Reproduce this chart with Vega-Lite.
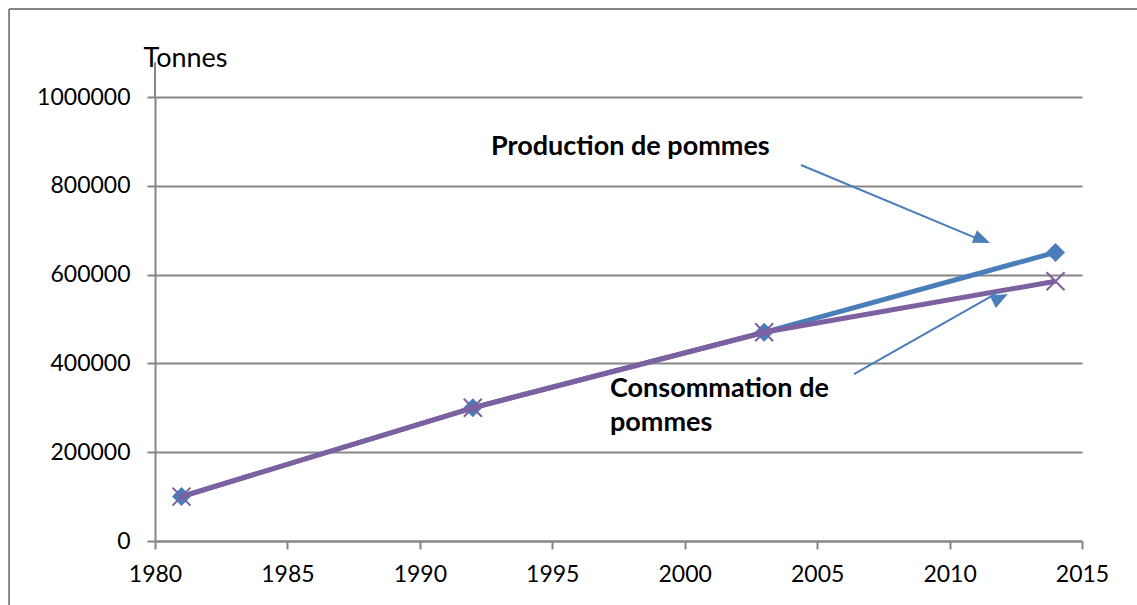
{
  "$schema": "https://vega.github.io/schema/vega-lite/v6.json",
  "width": 927,
  "height": 444,
  "autosize": {"type": "none"},
  "padding": {"left": 155, "top": 97, "right": 55, "bottom": 64},
  "background": "white",
  "config": {"font": "Lato", "view": {"stroke": null}},
  "datasets": {
    "series": [
      {"year": 1981, "value": 100000, "series": "Production de pommes"},
      {"year": 1992, "value": 300000, "series": "Production de pommes"},
      {"year": 2003, "value": 470000, "series": "Production de pommes"},
      {"year": 2014, "value": 650000, "series": "Production de pommes"},
      {"year": 1981, "value": 100000, "series": "Consommation de pommes"},
      {"year": 1992, "value": 300000, "series": "Consommation de pommes"},
      {"year": 2003, "value": 470000, "series": "Consommation de pommes"},
      {"year": 2014, "value": 585000, "series": "Consommation de pommes"}
    ]
  },
  "layer": [
    {
      "data": {"values": [
        {"x": 1974.49, "y": 1198000, "x2": 2018.5, "y2": 1198000},
        {"x": 1974.49, "y": 1198000, "x2": 1974.49, "y2": -160000}
      ]},
      "mark": {"type": "rule", "color": "#868686", "strokeWidth": 2, "clip": false},
      "encoding": {
        "x": {"field": "x", "type": "quantitative"},
        "y": {"field": "y", "type": "quantitative"},
        "x2": {"field": "x2"},
        "y2": {"field": "y2"}
      }
    },
    {
      "data": {"values": [{"x": 1980, "y": 1000000, "y2": 1078000}]},
      "mark": {"type": "rule", "color": "#868686", "strokeWidth": 2, "clip": false},
      "encoding": {
        "x": {"field": "x", "type": "quantitative"},
        "y": {"field": "y", "type": "quantitative"},
        "y2": {"field": "y2"}
      }
    },
    {
      "data": {"name": "series"},
      "transform": [{"filter": "datum.series === 'Production de pommes'"}],
      "mark": {"type": "line", "color": "#4A7EBB", "strokeWidth": 5},
      "encoding": {
        "x": {
          "field": "year", "type": "quantitative",
          "scale": {"domain": [1980, 2015], "nice": false, "zero": false},
          "axis": {
            "title": null, "values": [1980, 1985, 1990, 1995, 2000, 2005, 2010, 2015],
            "format": "d", "grid": false, "labelFlush": false,
            "domainColor": "#868686", "domainWidth": 2,
            "tickColor": "#868686", "tickWidth": 2, "tickSize": 8,
            "labelFontSize": 23, "labelColor": "#000000", "labelPadding": 14,
            "labelFont": "Lato"
          }
        },
        "y": {
          "field": "value", "type": "quantitative",
          "scale": {"domain": [0, 1000000], "nice": false},
          "axis": {
            "title": "Tonnes", "titleAngle": 0, "titleAlign": "left", "titleBaseline": "alphabetic",
            "titleX": -12, "titleY": -31, "titleFontSize": 27, "titleFontWeight": "normal",
            "titleColor": "#000000", "titleFont": "Lato",
            "values": [0, 200000, 400000, 600000, 800000, 1000000], "format": "d",
            "grid": true, "gridColor": "#868686", "gridWidth": 2,
            "domainColor": "#868686", "domainWidth": 2, "labelFlush": false,
            "tickColor": "#868686", "tickWidth": 2, "tickSize": 8,
            "labelFontSize": 23, "labelColor": "#000000", "labelPadding": 17,
            "labelFont": "Lato"
          }
        }
      }
    },
    {
      "data": {"name": "series"},
      "transform": [{"filter": "datum.series === 'Production de pommes'"}],
      "mark": {"type": "point", "shape": "diamond", "filled": true, "color": "#4A7EBB", "size": 360, "opacity": 1},
      "encoding": {
        "x": {"field": "year", "type": "quantitative"},
        "y": {"field": "value", "type": "quantitative"}
      }
    },
    {
      "data": {"name": "series"},
      "transform": [{"filter": "datum.series === 'Consommation de pommes'"}],
      "mark": {"type": "line", "color": "#7D60A0", "strokeWidth": 5},
      "encoding": {
        "x": {"field": "year", "type": "quantitative"},
        "y": {"field": "value", "type": "quantitative"}
      }
    },
    {
      "data": {"name": "series"},
      "transform": [{"filter": "datum.series === 'Consommation de pommes'"}],
      "mark": {"type": "point", "shape": "M-1,-1L1,1M1,-1L-1,1", "filled": false, "color": "#7D60A0", "strokeWidth": 2, "size": 324, "opacity": 1},
      "encoding": {
        "x": {"field": "year", "type": "quantitative"},
        "y": {"field": "value", "type": "quantitative"}
      }
    },
    {
      "data": {"values": [
        {"x": 2004.39, "y": 846800, "x2": 2011.3, "y2": 675000},
        {"x": 2006.39, "y": 376100, "x2": 2011.9, "y2": 562000}
      ]},
      "mark": {"type": "rule", "color": "#4A7EBB", "strokeWidth": 2},
      "encoding": {
        "x": {"field": "x", "type": "quantitative"},
        "y": {"field": "y", "type": "quantitative"},
        "x2": {"field": "x2"},
        "y2": {"field": "y2"}
      }
    },
    {
      "data": {"values": [{"x": 2011.53, "y": 671200}]},
      "mark": {"type": "point", "shape": "M0,0L-2,-0.8L-2,0.8Z", "filled": true, "color": "#4A7EBB", "size": 289, "angle": 22.4, "opacity": 1},
      "encoding": {
        "x": {"field": "x", "type": "quantitative"},
        "y": {"field": "y", "type": "quantitative"}
      }
    },
    {
      "data": {"values": [{"x": 2012.2, "y": 556300}]},
      "mark": {"type": "point", "shape": "M0,0L-2,-0.8L-2,0.8Z", "filled": true, "color": "#4A7EBB", "size": 289, "angle": 332.5, "opacity": 1},
      "encoding": {
        "x": {"field": "x", "type": "quantitative"},
        "y": {"field": "y", "type": "quantitative"}
      }
    },
    {
      "data": {"values": [
        {"x": 1992.69, "y": 869400, "label": "Production de pommes"},
        {"x": 1997.18, "y": 324300, "label": "Consommation de\npommes"}
      ]},
      "mark": {"type": "text", "align": "left", "baseline": "alphabetic", "fontSize": 27, "fontWeight": "bold", "font": "Lato", "color": "#000000", "lineBreak": "\n", "lineHeight": 34},
      "encoding": {
        "x": {"field": "x", "type": "quantitative"},
        "y": {"field": "y", "type": "quantitative"},
        "text": {"field": "label"}
      }
    }
  ]
}
